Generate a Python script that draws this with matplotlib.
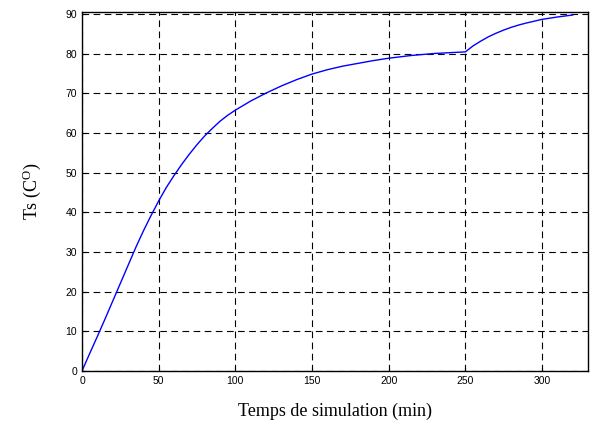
import matplotlib
matplotlib.use("Agg")
import matplotlib.pyplot as plt

plt.rcParams['mathtext.fontset'] = 'custom'
plt.rcParams['mathtext.rm'] = 'Liberation Serif'
plt.rcParams['mathtext.it'] = 'Liberation Serif:italic'

t_min = [0, 5, 10, 15, 20, 25, 30, 35, 40, 45, 50, 55, 60, 65, 70, 75, 80, 85, 90, 95,
         100, 110, 120, 130, 140, 150, 160, 170, 180, 190, 200, 215, 230, 250, 255, 260,
         265, 270, 275, 280, 285, 290, 300, 310, 320]
ts_c = [0, 4.4, 8.7, 13.1, 17.6, 22.1, 26.6, 31.1, 35.3, 39.2, 42.9, 46.3, 49.3, 52.1,
        54.7, 57.1, 59.3, 61.2, 63.0, 64.5, 65.8, 68.1, 70.1, 71.9, 73.5, 74.9, 76.0,
        76.9, 77.6, 78.3, 78.9, 79.6, 80.1, 80.5, 82.0, 83.2, 84.3, 85.2, 86.0, 86.7,
        87.3, 87.8, 88.7, 89.3, 89.8]
x_ticks = [0, 50, 100, 150, 200, 250, 300]
y_ticks = [0, 10, 20, 30, 40, 50, 60, 70, 80, 90]

fig = plt.figure(figsize=(5.9, 4.23), dpi=100)
ax = fig.add_axes([0.139, 0.123, 0.8576, 0.849])
ax.plot(t_min, ts_c, color=(0, 0, 1), lw=1.0)
ax.set_xlim(0, 330)
ax.set_ylim(0, 90.6)
ax.set_xticks(x_ticks)
ax.set_yticks(y_ticks)
ax.grid(True, color='black', linestyle=(0, (6, 4)), linewidth=0.8)
ax.tick_params(direction='in', length=3, labelsize=7.5, width=0.8)
for lab in ax.get_xticklabels() + ax.get_yticklabels():
    lab.set_family('Liberation Sans')
for s in ax.spines.values():
    s.set_linewidth(1.0)
ax.set_xlabel('Temps de simulation (min)', family='Liberation Serif', fontsize=13, labelpad=12)
ax.set_ylabel('Ts (C$^{\\mathrm{O}}$)', family='Liberation Serif', fontsize=13, labelpad=16)
fig.savefig('out.png', dpi=100)
